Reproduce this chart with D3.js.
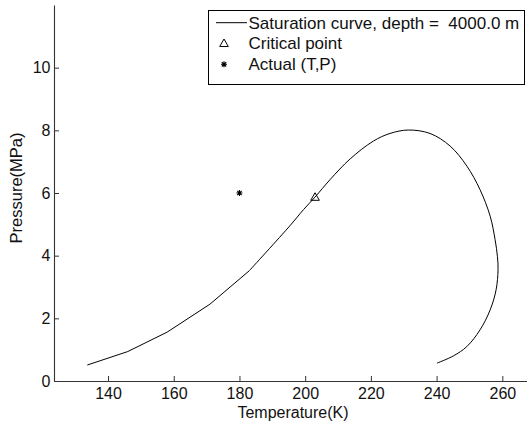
<!DOCTYPE html>
<html>
<head>
<meta charset="utf-8">
<script src="https://cdn.jsdelivr.net/npm/d3@7"></script>
<style>
  html, body { margin: 0; padding: 0; background: #fff; }
  svg { display: block; font-family: "Liberation Sans", Arial, Helvetica, sans-serif; }
</style>
</head>
<body>
<svg id="chart" width="527" height="425"></svg>
<script>
// ---- data ----
const curveT = [133.7, 146.0, 158.0, 171.0, 183.0, 195.4, 199.5, 203.0, 207.6, 213.7, 220.8, 225.8, 231.4, 238.0, 244.1, 249.2, 253.2, 256.3, 257.8, 258.5, 258.7, 258.1, 256.3, 253.2, 249.2, 245.1, 240.1];
const curveP = [0.51, 0.94, 1.56, 2.45, 3.52, 4.96, 5.47, 5.87, 6.43, 7.09, 7.66, 7.90, 8.01, 7.90, 7.50, 6.86, 6.11, 5.26, 4.51, 3.98, 3.55, 2.91, 2.27, 1.63, 1.10, 0.80, 0.57];
const criticalT = [203.0];
const criticalP = [5.87];
const actualT = [180.0];
const actualP = [6.0];
const xTicks = [140, 160, 180, 200, 220, 240, 260];
const yTicks = [0, 2, 4, 6, 8, 10];
const legendLabels = ["Saturation curve, depth =  4000.0 m", "Critical point", "Actual (T,P)"];
const xLabel = "Temperature(K)";
const yLabel = "Pressure(MPa)";

// ---- layout ----
const svg = d3.select("#chart");
const x = d3.scaleLinear().domain([123.56, 267.6]).range([54, 527.3]);
const y = d3.scaleLinear().domain([0, 12]).range([381, 5]);
const axisColor = "#333";

// axes
const gx = svg.append("g").attr("transform", "translate(0,381)")
  .call(d3.axisBottom(x).tickValues(xTicks).tickSizeInner(-5).tickSizeOuter(0).tickPadding(7).tickFormat(d3.format("d")));
const gy = svg.append("g").attr("transform", "translate(54,0)")
  .call(d3.axisLeft(y).tickValues(yTicks).tickSizeInner(-5).tickSizeOuter(0).tickPadding(3.5).tickFormat(d3.format("d")));
[gx, gy].forEach(g => {
  g.select(".domain").attr("stroke", axisColor).attr("stroke-width", 1.1);
  g.selectAll(".tick line").attr("stroke", axisColor);
  g.selectAll(".tick text").attr("fill", "#111").style("font-size", "16px").style("font-family", "Liberation Sans, Arial, sans-serif");
});

// axis labels
svg.append("text").attr("x", 293).attr("y", 418).attr("text-anchor", "middle")
  .style("font-size", "16px").attr("fill", "#111").text(xLabel);
svg.append("text").attr("transform", "translate(22,188) rotate(-90)").attr("text-anchor", "middle")
  .style("font-size", "16.5px").attr("fill", "#111").text(yLabel);

// curve: coarse piecewise-linear low-T branch, smooth remainder
const pts = curveT.map((t, i) => [t, curveP[i]]);
const lineLin = d3.line().x(d => x(d[0])).y(d => y(d[1])).curve(d3.curveLinear);
const lineSmooth = d3.line().x(d => x(d[0])).y(d => y(d[1])).curve(d3.curveCatmullRom.alpha(0.5));
svg.append("path").datum(pts.slice(0, 5)).attr("d", lineLin).attr("fill", "none").attr("stroke", "#000").attr("stroke-width", 1);
svg.append("path").datum(pts.slice(4)).attr("d", lineSmooth).attr("fill", "none").attr("stroke", "#000").attr("stroke-width", 1);

// markers
function triangle(g, cx, cy) {
  const s = 4.3;
  g.append("path").attr("d", `M${cx},${cy - s}L${cx + s},${cy + s * 0.75}L${cx - s},${cy + s * 0.75}Z`)
    .attr("fill", "none").attr("stroke", "#000").attr("stroke-width", 1);
}
function asterisk(g, cx, cy) {
  const s = 3, d = 2.2;
  g.append("path").attr("d",
    `M${cx - s},${cy}L${cx + s},${cy}M${cx},${cy - s}L${cx},${cy + s}M${cx - d},${cy - d}L${cx + d},${cy + d}M${cx - d},${cy + d}L${cx + d},${cy - d}`)
    .attr("stroke", "#000").attr("stroke-width", 1.1);
}
criticalT.forEach((t, i) => triangle(svg, x(t), y(criticalP[i])));
actualT.forEach((t, i) => asterisk(svg, x(t), y(actualP[i])));

// legend
const lg = svg.append("g");
lg.append("rect").attr("x", 208.5).attr("y", 10.5).attr("width", 316).attr("height", 74)
  .attr("fill", "#fff").attr("stroke", "#000").attr("stroke-width", 1);
const rowY = [22.7, 43.3, 64.3];
lg.append("line").attr("x1", 216).attr("x2", 247).attr("y1", rowY[0]).attr("y2", rowY[0]).attr("stroke", "#000");
triangle(lg, 224, rowY[1]);
asterisk(lg, 224, rowY[2]);
legendLabels.forEach((t, i) => {
  lg.append("text").attr("x", 248.5).attr("y", rowY[i] + 6).attr("xml:space", "preserve")
    .style("white-space", "pre").style("font-size", "17px").attr("fill", "#111").text(t);
});
</script>
</body>
</html>
